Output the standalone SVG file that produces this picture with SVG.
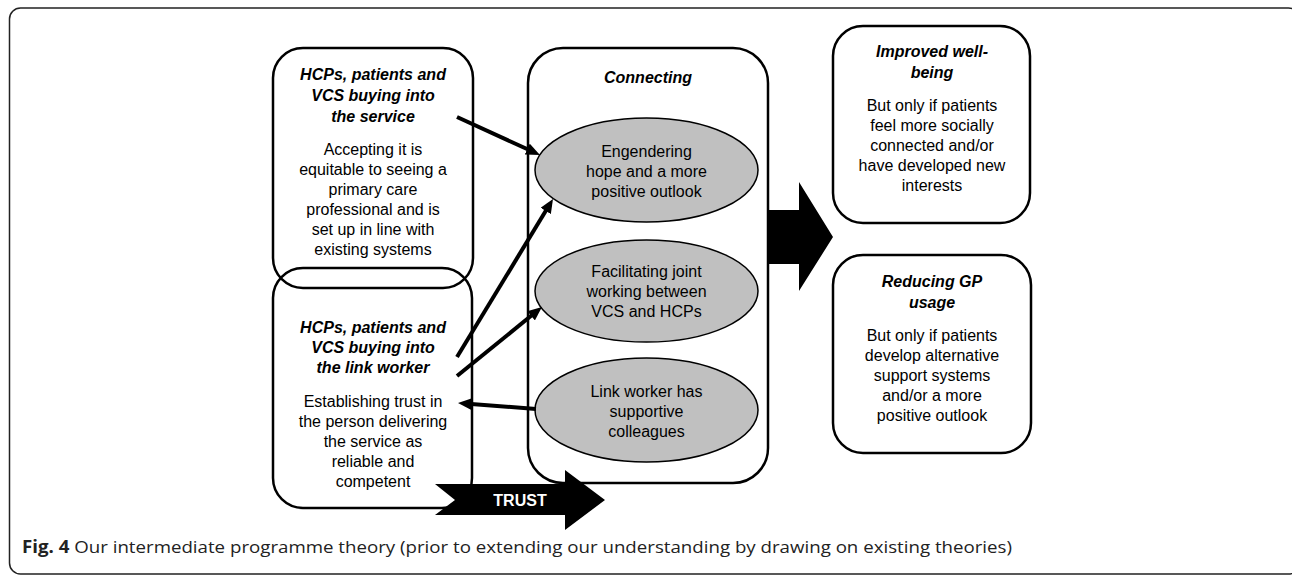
<svg xmlns="http://www.w3.org/2000/svg" width="1292" height="576" viewBox="0 0 1292 576">
<style>
.box{fill:none;stroke:#000;stroke-width:2.5}
.ell{fill:#c0c0c0;stroke:#000;stroke-width:1.5}
.t{font-family:"Liberation Sans",Arial,sans-serif;font-size:16px;fill:#000;text-anchor:middle}
.h{font-weight:bold;font-style:italic}
.con{stroke:#000;stroke-width:4;fill:none;marker-end:url(#ah)}
.cap{font-family:"Open Sans","Liberation Sans",sans-serif;font-size:17px;fill:#222}
</style>
<defs>
<marker id="ah" viewBox="0 0 14 12" refX="4" refY="6" markerWidth="14" markerHeight="12" markerUnits="userSpaceOnUse" orient="auto">
<path d="M0,0 L14,6 L0,12 z" fill="#000"/>
</marker>
</defs>
<rect x="0" y="0" width="1292" height="576" fill="#fff"/>
<rect x="9.5" y="8" width="1290" height="566" rx="11" fill="none" stroke="#222" stroke-width="1.5"/>

<g id="connecting">
<rect class="box" x="528" y="48" width="240" height="435" rx="35" fill="#fff"/>
<text class="t h" x="648" y="83">Connecting</text>
</g>
<g id="engendering">
<ellipse class="ell" cx="646.5" cy="170" rx="111.5" ry="52"/>
<text class="t" x="646.5" y="157">Engendering</text>
<text class="t" x="646.5" y="177">hope and a more</text>
<text class="t" x="646.5" y="197">positive outlook</text>
</g>
<g id="facilitating">
<ellipse class="ell" cx="646.5" cy="291" rx="111.5" ry="51"/>
<text class="t" x="646.5" y="277">Facilitating joint</text>
<text class="t" x="646.5" y="297">working between</text>
<text class="t" x="646.5" y="317">VCS and HCPs</text>
</g>
<g id="linkworker-colleagues">
<ellipse class="ell" cx="646.5" cy="410" rx="111.5" ry="52"/>
<text class="t" x="646.5" y="397">Link worker has</text>
<text class="t" x="646.5" y="417">supportive</text>
<text class="t" x="646.5" y="437">colleagues</text>
</g>

<g id="buying-service">
<rect class="box" x="273" y="48" width="200" height="240" rx="30"/>
<text class="t h" x="373" y="80">HCPs, patients and</text>
<text class="t h" x="373" y="101">VCS buying into</text>
<text class="t h" x="373" y="122">the service</text>
<text class="t" x="373" y="155">Accepting it is</text>
<text class="t" x="373" y="175">equitable to seeing a</text>
<text class="t" x="373" y="195">primary care</text>
<text class="t" x="373" y="215">professional and is</text>
<text class="t" x="373" y="235">set up in line with</text>
<text class="t" x="373" y="255">existing systems</text>
</g>
<g id="buying-linkworker">
<rect class="box" x="273" y="268" width="199" height="240" rx="30"/>
<text class="t h" x="373" y="333">HCPs, patients and</text>
<text class="t h" x="373" y="353">VCS buying into</text>
<text class="t h" x="373" y="373">the link worker</text>
<text class="t" x="373" y="407">Establishing trust in</text>
<text class="t" x="373" y="427">the person delivering</text>
<text class="t" x="373" y="447">the service as</text>
<text class="t" x="373" y="467">reliable and</text>
<text class="t" x="373" y="487">competent</text>
</g>

<g id="wellbeing">
<rect class="box" x="833" y="26" width="197" height="197" rx="30"/>
<text class="t h" x="932" y="57">Improved well-</text>
<text class="t h" x="932" y="78">being</text>
<text class="t" x="932" y="111">But only if patients</text>
<text class="t" x="932" y="131">feel more socially</text>
<text class="t" x="932" y="151">connected and/or</text>
<text class="t" x="932" y="171">have developed new</text>
<text class="t" x="932" y="191">interests</text>
</g>
<g id="gp-usage">
<rect class="box" x="833" y="255" width="198" height="198" rx="30"/>
<text class="t h" x="932" y="287">Reducing GP</text>
<text class="t h" x="932" y="308">usage</text>
<text class="t" x="932" y="341">But only if patients</text>
<text class="t" x="932" y="361">develop alternative</text>
<text class="t" x="932" y="381">support systems</text>
<text class="t" x="932" y="401">and/or a more</text>
<text class="t" x="932" y="421">positive outlook</text>
</g>

<g id="connectors">
<line class="con" x1="457" y1="117" x2="530.9" y2="150.8"/>
<line class="con" x1="457" y1="357" x2="547.8" y2="207.5"/>
<line class="con" x1="457" y1="376" x2="534.2" y2="313.3"/>
<line class="con" x1="536" y1="409" x2="468" y2="403.8"/>
<polygon points="767,210 799,210 799,182 833,237 799,291 799,264 767,264" fill="#000"/>
<polygon points="435,484 565,484 565,470 605,500 565,530 565,515 435,515 455,500" fill="#000"/>
<text x="520" y="506" font-family="Liberation Sans, Arial, sans-serif" font-size="16" font-weight="bold" fill="#fff" text-anchor="middle">TRUST</text>
</g>

<text class="cap" x="22" y="553" textLength="990" lengthAdjust="spacingAndGlyphs"><tspan font-weight="bold">Fig. 4</tspan> Our intermediate programme theory (prior to extending our understanding by drawing on existing theories)</text>
</svg>
